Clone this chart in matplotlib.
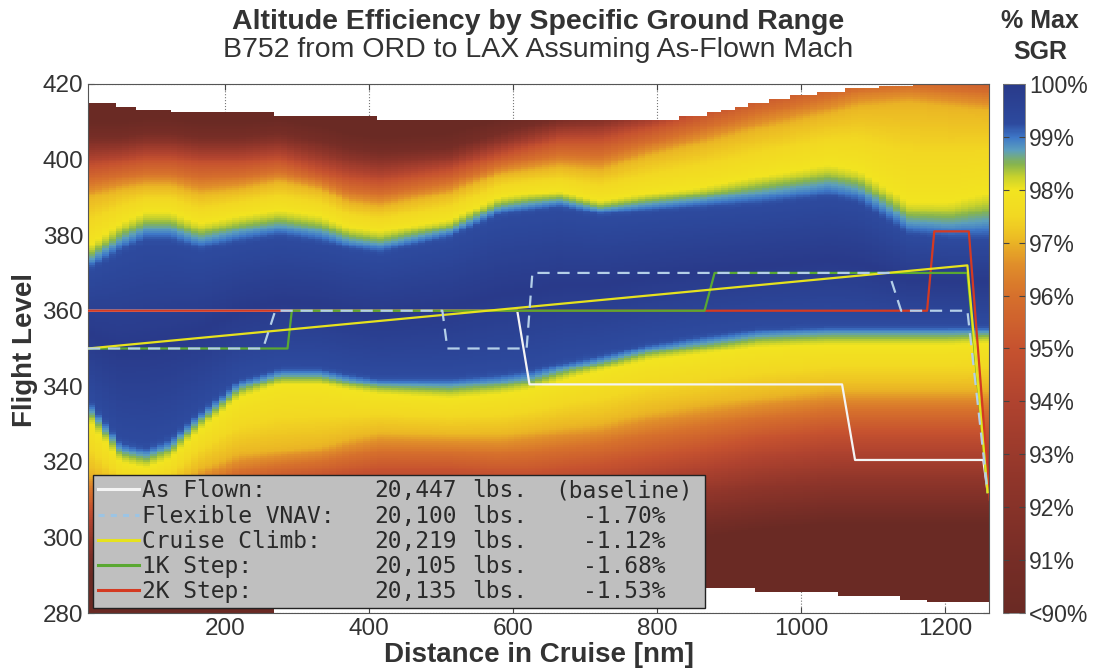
import numpy as np
import matplotlib
matplotlib.use("Agg")
import matplotlib.pyplot as plt
from matplotlib.colors import LinearSegmentedColormap, Normalize
from matplotlib.lines import Line2D

# ---------------- data ----------------
# distance knots (nm) at which the %SGR contour altitudes (FL) were read
dist_knots = [10, 55, 90, 125, 165, 220, 276, 332, 373, 415, 512, 581, 623, 665,
              720, 789, 859, 942, 1039, 1081, 1150, 1206, 1261]
# upper side contours
up_99 = [371, 376, 379, 379, 376.5, 378.5, 380, 378.5, 376.5, 375.5, 379.5, 385.5, 386.5,
         387.5, 385.5, 386.5, 387.5, 388.5, 390.5, 389, 380.5, 379.5, 379.5]
up_98 = [377, 383, 386, 386, 383, 385, 386.5, 385, 382, 381, 384, 390, 391, 391.5,
         389, 391, 392.5, 395.5, 398.5, 397, 388.5, 388.5, 391]
up_97 = [390, 392, 393, 393, 391, 392, 394, 392, 388.5, 387.5, 391, 396, 397, 398,
         397, 401, 404, 408, 412, 414, 415, 414, 413]
up_95 = [398, 399, 400, 400, 399, 399, 400, 397, 395, 394, 397, 401, 403, 405,
         405, 408, 412, 417, 421, 423, 424, 423, 422]
up_91 = [406, 406, 407, 407, 406, 406, 407, 405, 403, 402, 403, 407, 409, 411,
         412, 415, 419, 424, 428, 430, 431, 430, 429]
# lower side contours
lo_99 = [336.5, 325, 323.5, 326, 333, 341.5, 344.5, 344.5, 343, 342, 342, 343, 344,
         346, 348, 351, 353, 355, 355.8, 355.8, 355.8, 355.8, 355.8]
lo_98 = [331, 320, 318.5, 321, 328.5, 337, 340.5, 340.5, 339, 338, 337, 338, 339,
         341.5, 344, 347, 348.5, 350.5, 351, 351, 351, 351, 351.5]
lo_97 = [317, 312, 311, 313, 318, 322, 323, 324, 326, 327.5, 327, 327, 328, 329,
         330, 333, 335, 337, 339, 339, 339, 339, 339]
lo_95 = [308, 304, 303, 304, 309, 313, 315, 316, 317, 318, 318, 317, 317, 318,
         319, 321, 323, 326, 328, 328, 328, 328, 328]
lo_91 = [294, 291, 290, 291, 294, 297, 298, 299, 299, 298, 297, 296, 296, 297,
         299, 302, 304, 306, 307.5, 307.5, 307.5, 307.5, 307.5]

# data ceiling / floor (step functions: value applies from the given distance on)
ceil_dist = [10, 47, 75, 121, 265, 415, 831, 866, 887, 905, 926, 952, 984, 1018, 1060, 1108, 1160]
ceil_fl = [415.1, 414.2, 413.1, 412.3, 411.3, 410.3, 411.4, 412.3, 413.1, 413.9, 414.8,
           415.8, 416.8, 417.8, 418.8, 419.6, 421]
floor_dist = [10, 265, 560, 700, 938, 1050, 1139, 1178]
floor_fl = [279.5, 282, 284, 286.3, 285.5, 284.5, 283.7, 282.9]

# flight profiles
asflown_x = [10, 606, 623, 1057, 1075, 1253, 1259]
asflown_y = [360, 360, 340.5, 340.5, 320.5, 320.5, 312]
vnav_x = [10, 253, 270, 502, 509, 619, 627, 1122, 1139, 1231, 1259]
vnav_y = [350, 350, 360, 360, 350, 350, 370, 370, 360, 360, 312]
climb_x = [10, 1231, 1259]
climb_y = [350, 372, 312]
step1k_x = [10, 287, 293, 866, 880, 1231, 1259]
step1k_y = [350, 350, 360, 360, 370, 370, 312]
step2k_x = [10, 1175, 1185, 1233, 1262]
step2k_y = [360, 360, 381, 381, 310]

names = ["As Flown:", "Flexible VNAV:", "Cruise Climb:", "1K Step:", "2K Step:"]
fuel_lbs = [20447, 20100, 20219, 20105, 20135]
deltas = ["(baseline)", "-1.70%", "-1.12%", "-1.68%", "-1.53%"]

cbar_ticks = [90, 91, 92, 93, 94, 95, 96, 97, 98, 99, 100]
cbar_labels = ["<90%", "91%", "92%", "93%", "94%", "95%", "96%", "97%", "98%", "99%", "100%"]

# ---------------- colormap ----------------
cm_vals = [90.0, 91.0, 92.5, 94.0, 95.0, 96.0, 96.6, 97.1, 97.5, 98.0, 98.25, 98.5, 98.75,
           99.0, 99.25, 100.0]
cm_cols = ['#6a2a24', '#762d26', '#8f352a', '#b0432f', '#c6522f', '#d6702c', '#e08e2a',
           '#ecbc24', '#f2d822', '#f2e420', '#c8d22c', '#86b44e', '#5c9fbd', '#3e78c8',
           '#2d4a9e', '#293a8a']
cmap = LinearSegmentedColormap.from_list(
    "sgr", [((v - 90) / 10, c) for v, c in zip(cm_vals, cm_cols)], N=512)
cmap.set_bad((1, 1, 1, 0))

# ---------------- build field ----------------
xe = np.linspace(10, 1261, 132)
ye = np.arange(280, 420.01, 0.5)
xc = 0.5 * (xe[:-1] + xe[1:])
yc = 0.5 * (ye[:-1] + ye[1:])
Z = np.full((len(yc), len(xc)), np.nan)
for j, x in enumerate(xc):
    c = {k: np.interp(x, dist_knots, arr) for k, arr in
         dict(u99=up_99, u98=up_98, u97=up_97, u95=up_95, u91=up_91,
              l99=lo_99, l98=lo_98, l97=lo_97, l95=lo_95, l91=lo_91).items()}
    mid = 0.5 * (c['u99'] + c['l99'])
    alts = [c['l91'] - 8, c['l91'], c['l95'], c['l97'], c['l98'], c['l99'], mid,
            c['u99'], c['u98'], c['u97'], c['u95'], c['u91'], c['u91'] + 8]
    vals = [89, 91, 95, 97, 98, 99.2, 100, 99.2, 98, 97, 95, 91, 89]
    Z[:, j] = np.interp(yc, alts, vals)
    top = ceil_fl[np.searchsorted(ceil_dist, x, side='right') - 1]
    bot = floor_fl[np.searchsorted(floor_dist, x, side='right') - 1]
    Z[(yc > top) | (yc < bot), j] = np.nan
Z = np.ma.masked_invalid(np.clip(Z, 90, 100))

# ---------------- figure ----------------
W, H = 1093, 670
fig = plt.figure(figsize=(W / 100, H / 100), dpi=100)
ax = fig.add_axes([88 / W, 1 - 613 / H, (989 - 88) / W, (613 - 84) / H])
cax = fig.add_axes([1003 / W, 1 - 613 / H, 22 / W, (613 - 84) / H])

txt = '#333333'
sans = ['Liberation Sans', 'DejaVu Sans']
mono = 'DejaVu Sans Mono'
leg_size = 16.5

ax.set_axisbelow(True)
ax.grid(True, linestyle=':', color='#777777', linewidth=0.8)
mesh = ax.pcolormesh(xe, ye, Z, cmap=cmap, norm=Normalize(90, 100), shading='flat',
                     zorder=1, rasterized=True)

lw = 1.6
ax.plot(asflown_x, asflown_y, color='#f4f4f4', lw=lw, zorder=3)
ax.plot(step2k_x, step2k_y, color='#d43a22', lw=lw, zorder=4)
ax.plot(step1k_x, step1k_y, color='#5aa832', lw=lw, zorder=5)
ax.plot(climb_x, climb_y, color='#e6e21e', lw=lw, zorder=6)
ax.plot(vnav_x, vnav_y, color='#b4cfe8', lw=lw, ls=(0, (5.5, 3.5)), zorder=7)

ax.set_xlim(10, 1261)
ax.set_ylim(280, 420)
ax.set_xticks([200, 400, 600, 800, 1000, 1200])
ax.set_yticks(np.arange(280, 421, 20))
ax.tick_params(direction='in', top=True, right=True, length=4, labelsize=17.5,
               labelcolor=txt, color='#444444')
for lab in ax.get_xticklabels() + ax.get_yticklabels():
    lab.set_family(sans)
for s in ax.spines.values():
    s.set_color('#555555')
    s.set_linewidth(0.8)

# legend (names in the legend; the value columns are aligned to its rows)
handles = [
    Line2D([], [], color='#f4f4f4', lw=2.2),
    Line2D([], [], color='#9cc4e4', lw=2.2, ls=(0, (2, 2))),
    Line2D([], [], color='#e6e21e', lw=2.2),
    Line2D([], [], color='#5aa832', lw=2.2),
    Line2D([], [], color='#d43a22', lw=2.2),
]
leg = ax.legend(handles, names, loc='lower left',
                bbox_to_anchor=(5 / 901, 5 / 529, 612 / 901, 0.3), mode='expand',
                borderaxespad=0, prop={'family': mono, 'size': leg_size},
                handlelength=1.8, handletextpad=0.12, labelspacing=0.1,
                borderpad=0.2, fancybox=False, framealpha=1, facecolor='#bfbfbf',
                edgecolor='#222222')
leg.get_frame().set_linewidth(1.0)
for t in leg.get_texts():
    t.set_color('#2a2a2a')
leg.set_zorder(10)

# colorbar
cb = fig.colorbar(mesh, cax=cax, ticks=cbar_ticks)
cb.ax.set_yticklabels(cbar_labels)
cax.tick_params(direction='in', left=True, right=True, length=4, labelsize=16.5,
                labelcolor=txt, color='#444444', pad=3)
for lab in cax.get_yticklabels():
    lab.set_family(sans)
cb.outline.set_edgecolor('#777777')
cb.outline.set_linewidth(0.6)

# texts
cx = (88 + 989) / 2 / W
fig.text(cx, 1 - 22 / H, "Altitude Efficiency by Specific Ground Range", ha='center',
         va='center', fontsize=20.5, fontweight='bold', color=txt, family=sans)
fig.text(cx, 1 - 50 / H, "B752 from ORD to LAX Assuming As-Flown Mach", ha='center',
         va='center', fontsize=20.5, color=txt, family=sans)
fig.text(1040 / W, 1 - 21 / H, "% Max", ha='center', va='center', fontsize=18,
         fontweight='bold', color=txt, family=sans)
fig.text(1040 / W, 1 - 52 / H, "SGR", ha='center', va='center', fontsize=18,
         fontweight='bold', color=txt, family=sans)
fig.text(cx, 1 - 655 / H, "Distance in Cruise [nm]", ha='center', va='center',
         fontsize=20, fontweight='bold', color=txt, family=sans)
fig.text(25 / W, 1 - 350 / H, "Flight Level", ha='center', va='center', rotation=90,
         fontsize=20, fontweight='bold', color=txt, family=sans)

# value columns of the legend, aligned to the legend rows
fig.canvas.draw()
renderer = fig.canvas.get_renderer()
for i, t in enumerate(leg.get_texts()):
    bb = t.get_window_extent(renderer)
    ymid = 0.5 * (bb.y0 + bb.y1) / H
    cols = [(415, f"{fuel_lbs[i]:,}"), (500, "lbs."), (624, deltas[i])]
    for xpix, s in cols:
        fig.text(xpix / W, ymid, s, ha='center', va='center', family=mono,
                 fontsize=leg_size, color='#2a2a2a', zorder=20)

fig.savefig("out.png", dpi=100)
